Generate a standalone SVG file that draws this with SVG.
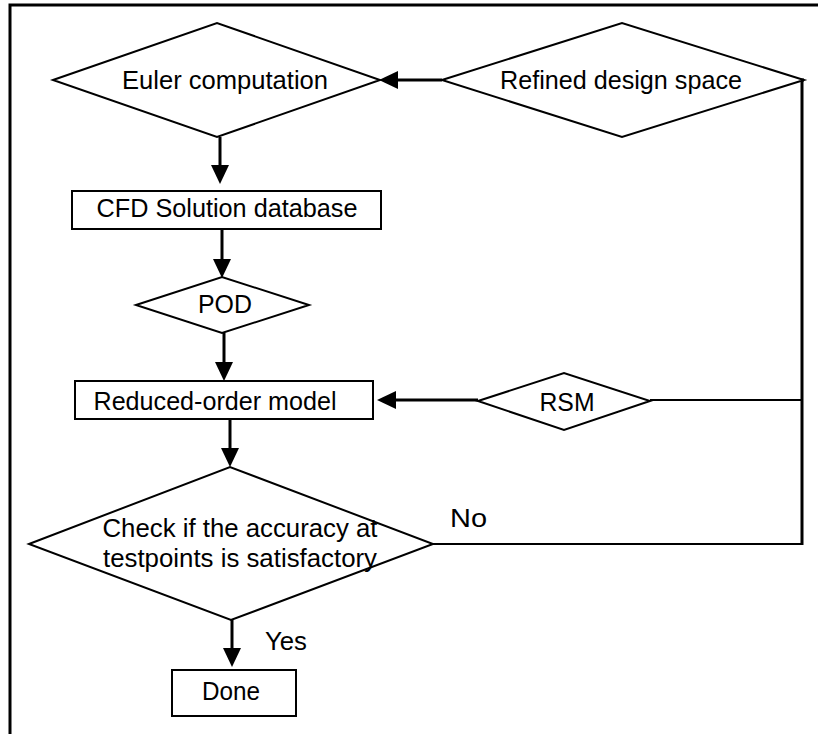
<svg xmlns="http://www.w3.org/2000/svg" width="818" height="734" viewBox="0 0 818 734">
<style>
.shape{fill:#fff;stroke:#000;stroke-width:2}
.t{font-family:"Liberation Sans",Arial,sans-serif;font-size:25px;fill:#000}
.c{text-anchor:middle}
.conn{fill:none;stroke:#000;stroke-width:3}
.thin{fill:none;stroke:#000;stroke-width:2}
</style>
<defs>
<marker id="arr" viewBox="0 0 19 20" markerWidth="19" markerHeight="20" markerUnits="userSpaceOnUse" refX="9" refY="10" orient="auto">
<path d="M0,1 L19,10 L0,19 z" fill="#000"/>
</marker>
</defs>
<rect x="10" y="5" width="830" height="760" fill="#fff" stroke="#000" stroke-width="3"/>
<g id="connectors">
<line class="conn" x1="220" y1="137" x2="220" y2="174" marker-end="url(#arr)"/>
<line class="conn" x1="222" y1="229" x2="222" y2="268" marker-end="url(#arr)"/>
<line class="conn" x1="224" y1="333" x2="224" y2="371" marker-end="url(#arr)"/>
<line class="conn" x1="230" y1="419" x2="230" y2="457" marker-end="url(#arr)"/>
<line class="conn" x1="232" y1="620" x2="232" y2="657" marker-end="url(#arr)"/>
<line class="conn" x1="442" y1="80" x2="389" y2="80" marker-end="url(#arr)"/>
<line class="conn" x1="478" y1="400" x2="387" y2="400" marker-end="url(#arr)"/>
<polyline class="thin" points="433,544 802,544"/>
<polyline class="conn" points="804,80 802,80 802,545"/>
<line class="thin" x1="650" y1="400" x2="802" y2="400" stroke-width="1.5"/>
<text class="t" x="450" y="527" textLength="37" lengthAdjust="spacingAndGlyphs">No</text>
<text class="t" x="265" y="650" textLength="42" lengthAdjust="spacingAndGlyphs">Yes</text>
</g>
<g id="euler">
<polygon class="shape" points="53,80 217,23 380,80 217,137"/>
<text class="t c" x="225" y="89" textLength="206" lengthAdjust="spacingAndGlyphs">Euler computation</text>
</g>
<g id="refined">
<polygon class="shape" points="442,80 622,23 804,80 622,137"/>
<text class="t c" x="621" y="89" textLength="242" lengthAdjust="spacingAndGlyphs">Refined design space</text>
</g>
<g id="cfd">
<rect class="shape" x="72" y="191" width="309" height="38"/>
<text class="t c" x="227" y="217" textLength="261" lengthAdjust="spacingAndGlyphs">CFD Solution database</text>
</g>
<g id="pod">
<polygon class="shape" points="136,305 222,277 309,305 222,333"/>
<text class="t c" x="225" y="313" textLength="54" lengthAdjust="spacingAndGlyphs">POD</text>
</g>
<g id="reduced">
<rect class="shape" x="75" y="381" width="298" height="38"/>
<text class="t c" x="215" y="410" textLength="243" lengthAdjust="spacingAndGlyphs">Reduced-order model</text>
</g>
<g id="rsm">
<polygon class="shape" points="478,401 564,373 650,401 564,430"/>
<text class="t c" x="567" y="411" textLength="55" lengthAdjust="spacingAndGlyphs">RSM</text>
</g>
<g id="check">
<polygon class="shape" points="29,544 230,467 433,544 231,620"/>
<text class="t c" x="240" y="537" textLength="275" lengthAdjust="spacingAndGlyphs">Check if the accuracy at</text>
<text class="t c" x="240" y="567" textLength="274" lengthAdjust="spacingAndGlyphs">testpoints is satisfactory</text>
</g>
<g id="done">
<rect class="shape" x="172" y="670" width="124" height="46"/>
<text class="t c" x="231" y="700" textLength="58" lengthAdjust="spacingAndGlyphs">Done</text>
</g>
</svg>
